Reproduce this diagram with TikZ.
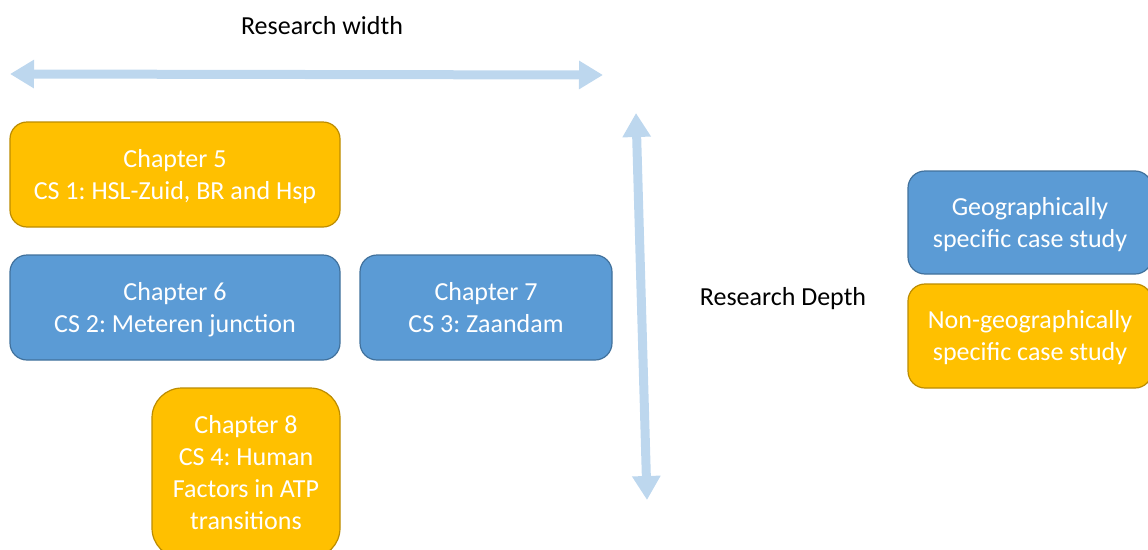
\documentclass[tikz,border=0pt]{standalone}
\usepackage{fontspec}
\setmainfont{Carlito}
\usetikzlibrary{arrows.meta}
\definecolor{boxorange}{HTML}{FFC000}
\definecolor{edgeorange}{HTML}{BC8C00}
\definecolor{boxblue}{HTML}{5B9BD5}
\definecolor{edgeblue}{HTML}{41719C}
\definecolor{axisblue}{HTML}{BDD7EE}
\frenchspacing
\begin{document}
\begin{tikzpicture}[x=1pt,y=-1pt,
  casebox/.style={draw, line width=1.2pt, rounded corners=17pt, inner sep=0pt},
  geo/.style={casebox, fill=boxblue, draw=edgeblue},
  nongeo/.style={casebox, fill=boxorange, draw=edgeorange},
  boxtext/.style={text=white, align=center, inner sep=0pt,
    font=\fontsize{26}{32}\selectfont,
    execute at begin node=\strut, execute at end node=\strut},
  axis/.style={draw=axisblue, line width=9pt,
    {Triangle[width=27pt,length=24pt]}-{Triangle[width=27pt,length=24pt]}},
  label/.style={font=\fontsize{26}{32}\selectfont, text=black, inner sep=0pt, anchor=base}]
\useasboundingbox (0,0) rectangle (1148,549);

% axis labels (placed on their baselines)
\node[label] (wlab) at (322,34) {Research width};
\node[label] (dlab) at (783,305) {Research Depth};

% axis arrows
\coordinate (wl) at (10,74);
\coordinate (wr) at (603,75);
\coordinate (dt) at (636,113);
\coordinate (db) at (647,500);
\draw[axis] (wl) -- (wr);
\draw[axis] (dt) -- (db);

% case study boxes
\node[nongeo, minimum width=330pt, minimum height=105pt] (ch5) at (175,174.5) {};
\node[geo, minimum width=330pt, minimum height=105pt] (ch6) at (175,307.5) {};
\node[geo, minimum width=252pt, minimum height=105pt] (ch7) at (486,307.5) {};
\node[nongeo, minimum width=188pt, minimum height=170pt, rounded corners=30pt] (ch8) at (246,473) {};

% legend boxes
\node[geo, minimum width=244pt, minimum height=103pt] (lgeo) at (1030,222.5) {};
\node[nongeo, minimum width=244pt, minimum height=104pt] (lnon) at (1030,336) {};

% box captions, set slightly below each box centre
\node[boxtext] (ch5t) at ([yshift=-4.5pt]ch5.center) {Chapter 5\\CS 1: HSL-Zuid, BR and Hsp};
\node[boxtext] (ch6t) at ([yshift=-4.5pt]ch6.center) {Chapter 6\\CS 2: Meteren junction};
\node[boxtext] (ch7t) at ([yshift=-4.5pt]ch7.center) {Chapter 7\\CS 3: Zaandam};
\node[boxtext] (ch8t) at ([yshift=-4.5pt]ch8.center) {Chapter 8\\CS 4: Human\\Factors in ATP\\transitions};
\node[boxtext] (lgeot) at ([yshift=-4.5pt]lgeo.center) {Geographically\\specific case study};
\node[boxtext] (lnont) at ([yshift=-4.5pt]lnon.center) {Non-geographically\\specific case study};
\end{tikzpicture}
\end{document}
